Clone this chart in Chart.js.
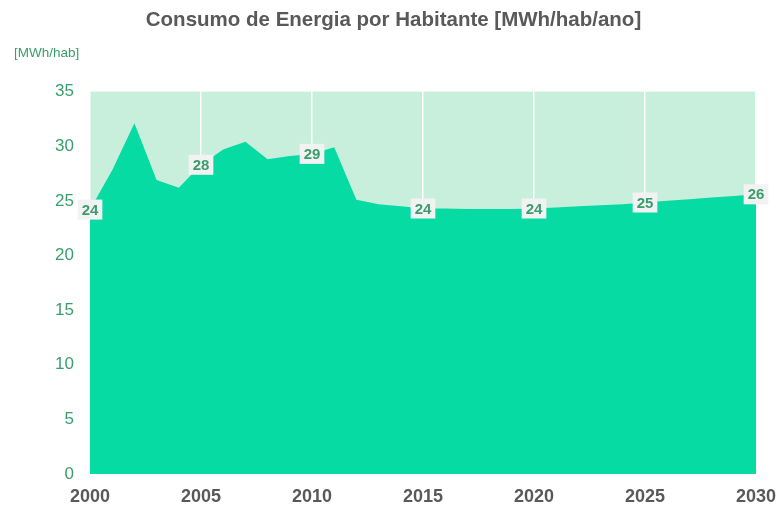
<!DOCTYPE html>
<html>
<head>
<meta charset="utf-8">
<script src="https://cdn.jsdelivr.net/npm/chart.js@4"></script>
<style>
  html, body { margin: 0; padding: 0; background: #ffffff; }
  #wrap { width: 781px; height: 505px; }
</style>
</head>
<body>
<div id="wrap"><canvas id="chart" width="781" height="505"></canvas></div>
<script>
const years = ['2000', '2001', '2002', '2003', '2004', '2005', '2006', '2007', '2008', '2009',
    '2010', '2011', '2012', '2013', '2014', '2015', '2016', '2017', '2018', '2019',
    '2020', '2021', '2022', '2023', '2024', '2025', '2026', '2027', '2028', '2029', '2030'];

const consumo = [24.2, 27.8, 32.1, 26.9, 26.2, 28.3, 29.7, 30.4, 28.8, 29.1,
    29.3, 29.9, 25.1, 24.7, 24.5, 24.3, 24.3, 24.25, 24.25, 24.25,
    24.3, 24.4, 24.5, 24.6, 24.7, 24.85, 25.0, 25.15, 25.3, 25.45, 25.6];

const yTicks = [0, 5, 10, 15, 20, 25, 30, 35];

const green = '#06DBA4';
const mint = '#C8EEDC';
const tickGreen = '#3A9E6C';
const gray = '#595959';

// fundo da area do grafico
const plotBackground = {
    id: 'plotBackground',
    beforeDraw(chart) {
        const { ctx, chartArea } = chart;
        ctx.save();
        ctx.fillStyle = mint;
        ctx.fillRect(chartArea.left, chartArea.top, chartArea.right - chartArea.left, chartArea.bottom - chartArea.top);
        ctx.restore();
    }
};

// unidade do eixo y, em cima a esquerda
const unitLabel = {
    id: 'unitLabel',
    afterDraw(chart) {
        const ctx = chart.ctx;
        ctx.save();
        ctx.font = '13.5px "Liberation Sans", Arial, sans-serif';
        ctx.fillStyle = tickGreen;
        ctx.textBaseline = 'middle';
        ctx.textAlign = 'left';
        ctx.fillText('[MWh/hab]', 14, 53);
        ctx.restore();
    }
};

// rotulos dos valores a cada 5 anos
const valueLabels = {
    id: 'valueLabels',
    afterDatasetsDraw(chart) {
        const ctx = chart.ctx;
        const meta = chart.getDatasetMeta(0);
        ctx.save();
        ctx.font = 'bold 15px "Liberation Sans", Arial, sans-serif';
        ctx.textAlign = 'center';
        ctx.textBaseline = 'middle';
        meta.data.forEach((pt, i) => {
            if (i % 5 !== 0) return;
            const text = Math.round(consumo[i]).toString();
            const w = ctx.measureText(text).width + 8;
            const h = 20;
            ctx.fillStyle = '#F2F2F2';
            ctx.fillRect(pt.x - w / 2, pt.y - h / 2, w, h);
            ctx.fillStyle = tickGreen;
            ctx.fillText(text, pt.x, pt.y + 1);
        });
        ctx.restore();
    }
};

new Chart(document.getElementById('chart'), {
    type: 'line',
    data: {
        labels: years,
        datasets: [{
            label: 'Consumo de Energia por Habitante',
            data: consumo,
            fill: 'origin',
            backgroundColor: green,
            borderWidth: 0,
            pointRadius: 0,
            tension: 0
        }]
    },
    options: {
        responsive: false,
        animation: false,
        layout: { padding: { left: 31, right: 25, top: 0, bottom: 0 } },
        plugins: {
            legend: { display: false },
            tooltip: { enabled: false },
            title: {
                display: true,
                text: 'Consumo de Energia por Habitante [MWh/hab/ano]',
                color: gray,
                font: { family: '"Liberation Sans", Arial, sans-serif', size: 20.5, weight: 'bold' },
                padding: { top: 8, bottom: 59 }
            }
        },
        scales: {
            x: {
                afterFit: scale => {
                    scale.height = 31;
                    scale.paddingLeft = 0;
                    scale.paddingRight = 0;
                },
                grid: {
                    drawTicks: false,
                    color: ctx => (ctx.index % 5 === 0 ? '#ffffff' : 'rgba(0,0,0,0)'),
                    lineWidth: 1.5
                },
                border: { display: false },
                ticks: {
                    autoSkip: false,
                    maxRotation: 0,
                    padding: 12,
                    color: gray,
                    font: { family: '"Liberation Sans", Arial, sans-serif', size: 18, weight: 'bold' },
                    callback: (val, i) => (i % 5 === 0 ? years[i] : '')
                }
            },
            y: {
                min: 0,
                max: 35,
                afterBuildTicks: scale => { scale.ticks = yTicks.map(v => ({ value: v })); },
                afterFit: scale => { scale.width = 59; },
                grid: { display: false, drawTicks: false },
                border: { display: false },
                ticks: {
                    padding: 16,
                    color: tickGreen,
                    font: { family: '"Liberation Sans", Arial, sans-serif', size: 17 }
                }
            }
        }
    },
    plugins: [plotBackground, valueLabels, unitLabel]
});
</script>
</body>
</html>
